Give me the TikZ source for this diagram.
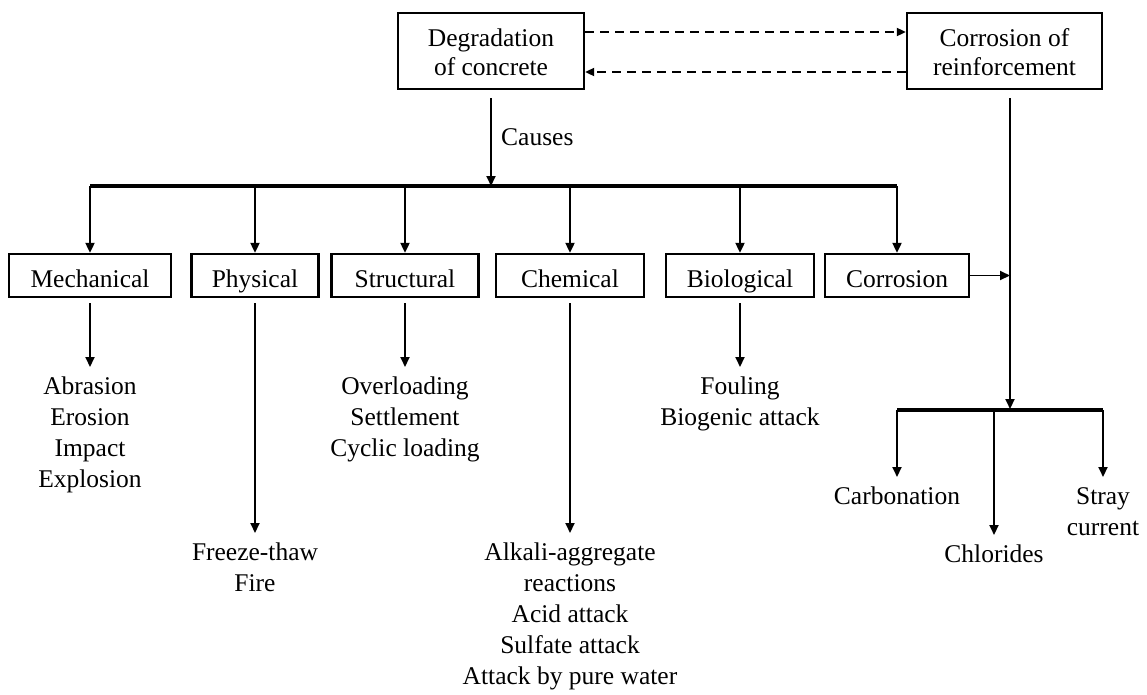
\documentclass[tikz,border=0pt]{standalone}
\usepackage{fontspec}
\setmainfont{Liberation Serif}
\usetikzlibrary{arrows.meta}
\begin{document}
\begin{tikzpicture}[x=1pt,y=-1pt,
  every node/.style={font=\fontsize{25.5}{31}\selectfont},
  box/.style={draw,line width=2.3pt,minimum height=43pt,inner sep=0pt,align=center,text height=25pt,text depth=2pt},
  topbox/.style={draw,line width=2.3pt,minimum height=76pt,inner sep=0pt,align=center,font=\fontsize{25.5}{29}\selectfont},
  arr/.style={line width=1.9pt,-{Triangle[length=10pt,width=9pt]}},
  dasharr/.style={line width=1.8pt,dash pattern=on 9pt off 6pt,-{Triangle[length=9pt,width=8pt]}},
  bar/.style={line width=3.2pt},
  list/.style={align=center,inner xsep=0pt,inner ysep=10pt,anchor=north}]
\useasboundingbox (0,0) rectangle (1147,694);

% top boxes
\node[topbox,minimum width=186pt] (deg) at (491,51) {\rule{0pt}{21pt}Degradation\\of concrete};
\node[topbox,minimum width=195pt] (cr) at (1004.5,51) {\rule{0pt}{21pt}Corrosion of\\reinforcement};
\draw[dasharr] ([yshift=19pt]deg.east) -- ([yshift=19pt]cr.west);
\draw[dasharr] ([yshift=-21pt]cr.west) -- ([yshift=-21pt]deg.east);

% causes
\coordinate (barC) at (491,186);
\draw[arr] ([yshift=-8pt]deg.south) -- (barC);
\node[anchor=west,inner sep=0pt] (causes) at (501,137) {Causes};

% row boxes
\node[box,minimum width=162pt] (mech) at (90,275.5) {Mechanical};
\node[box,minimum width=127pt] (phys) at (255,275.5) {Physical};
\node[box,minimum width=147pt] (struc) at (405,275.5) {Structural};
\node[box,minimum width=148pt] (chem) at (570,275.5) {Chemical};
\node[box,minimum width=148pt] (bio) at (740,275.5) {Biological};
\node[box,minimum width=144pt] (corr) at (897,275.5) {Corrosion};

\draw[bar] (mech.north |- barC) -- (corr.north |- barC);
\foreach \n in {mech,phys,struc,chem,bio,corr}
  \draw[arr] (\n.north |- barC) -- (\n.north);

% lists
\node[list] (mechL) at (90,367) {Abrasion\\Erosion\\Impact\\Explosion};
\node[list] (physL) at (255,533) {Freeze-thaw\\Fire};
\node[list] (strucL) at (405,367) {Overloading\\Settlement\\Cyclic loading};
\node[list] (chemL) at (570,533) {Alkali-aggregate\\reactions\\Acid attack\\Sulfate attack\\Attack by pure water};
\node[list] (bioL) at (740,367) {Fouling\\Biogenic attack};
\foreach \n in {mech,phys,struc,chem,bio}
  \draw[arr] ([yshift=-5pt]\n.south) -- (\n L.north);

% corrosion of reinforcement branch
\coordinate (jn) at (1010,409);
\coordinate (crb) at ([yshift=-8pt]cr.south);
\draw[arr] (crb -| jn) -- (jn);
\draw[arr] (corr.east) -- (corr.east -| jn);
\coordinate (b2) at (1010,410);
\node[list] (carb) at (897,477) {Carbonation};
\node[list] (chlor) at (994,535) {Chlorides};
\node[list] (stray) at (1103,477) {Stray\\current};
\draw[bar] (carb.north |- b2) -- (stray.north |- b2);
\foreach \n in {carb,chlor,stray}
  \draw[arr] (\n.north |- b2) -- (\n.north);
\end{tikzpicture}
\end{document}
